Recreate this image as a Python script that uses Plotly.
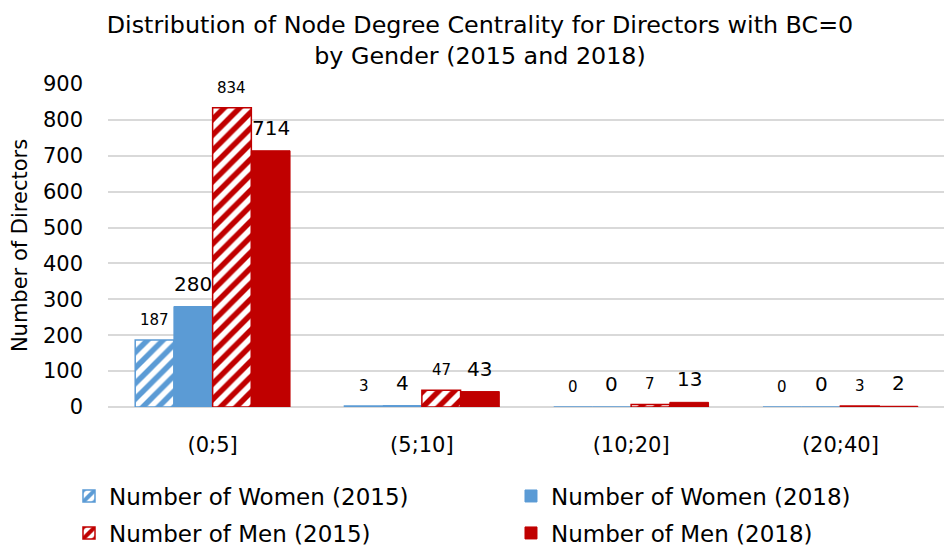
import plotly.graph_objects as go

categories = ["(0;5]", "(5;10]", "(10;20]", "(20;40]"]
women_2015 = [187, 3, 0, 0]
women_2018 = [280, 4, 0, 0]
men_2015 = [834, 47, 7, 3]
men_2018 = [714, 43, 13, 2]
y_ticks = [0, 100, 200, 300, 400, 500, 600, 700, 800, 900]

BLUE = "#5b9bd5"
RED = "#c00000"
FONT = "DejaVu Sans"
BARGAP = 0.26

series = [
    ("Number of Women (2015)", women_2015, BLUE, True, 15, "legend"),
    ("Number of Women (2018)", women_2018, BLUE, False, 20, "legend"),
    ("Number of Men (2015)", men_2015, RED, True, 15, "legend2"),
    ("Number of Men (2018)", men_2018, RED, False, 20, "legend2"),
]

fig = go.Figure()
n = len(series)
bw = (1 - BARGAP) / n
for k, (name, vals, color, hatched, tsize, legend) in enumerate(series):
    marker = dict(color=color, line=dict(color=color, width=1))
    if hatched:
        marker = dict(color="white", line=dict(color=color, width=1.5),
                      pattern=dict(shape="/", fgcolor=color, bgcolor="white",
                                   size=11, solidity=0.5, fillmode="replace",
                                   fgopacity=1))
    fig.add_trace(go.Bar(x=categories, y=vals, name=name, marker=marker,
                         legend=legend))
    # value labels, placed above each bar
    off = -0.5 + BARGAP / 2 + bw * (k + 0.5)
    for i, v in enumerate(vals):
        fig.add_annotation(x=i + off, y=v, text=str(v), showarrow=False,
                           xref="x", yref="y", yanchor="bottom", yshift=9,
                           font=dict(family=FONT, size=tsize, color="black"))

leg_common = dict(orientation="h", xref="paper", yref="paper",
                  x=-0.0466, xanchor="left", yanchor="middle",
                  entrywidth=397, entrywidthmode="pixels",
                  font=dict(size=23, family=FONT), traceorder="normal",
                  itemwidth=30, bgcolor="rgba(0,0,0,0)")

fig.update_layout(
    width=944, height=540,
    barmode="group", bargap=BARGAP, bargroupgap=0,
    plot_bgcolor="white", paper_bgcolor="white",
    font=dict(family=FONT, color="black"),
    margin=dict(l=100, r=7, t=76, b=141, autoexpand=False),
    title=dict(text="Distribution of Node Degree Centrality for Directors with BC=0<br>by Gender (2015 and 2018)",
               x=0.5, xanchor="center", xref="container", yref="container", y=0.953, yanchor="top",
               font=dict(family=FONT, size=23.8, color="black")),
    xaxis=dict(tickfont=dict(size=21, family=FONT), showline=False, ticks="",
               showgrid=False, ticklabelstandoff=23, automargin=False),
    yaxis=dict(range=[0, 900], tickvals=y_ticks, tickfont=dict(size=21, family=FONT),
               showgrid=True, gridcolor="#d9d9d9", gridwidth=1.5, zeroline=True,
               zerolinecolor="#d9d9d9", zerolinewidth=1.5, ticks="", ticklen=0,
               automargin=False, ticklabelstandoff=24,
               title=dict(text="Number of Directors", font=dict(size=21, family=FONT), standoff=19)),
    legend=dict(y=-0.2756, **leg_common),
    legend2=dict(y=-0.3901, **leg_common),
)

fig.write_html("out.html")
